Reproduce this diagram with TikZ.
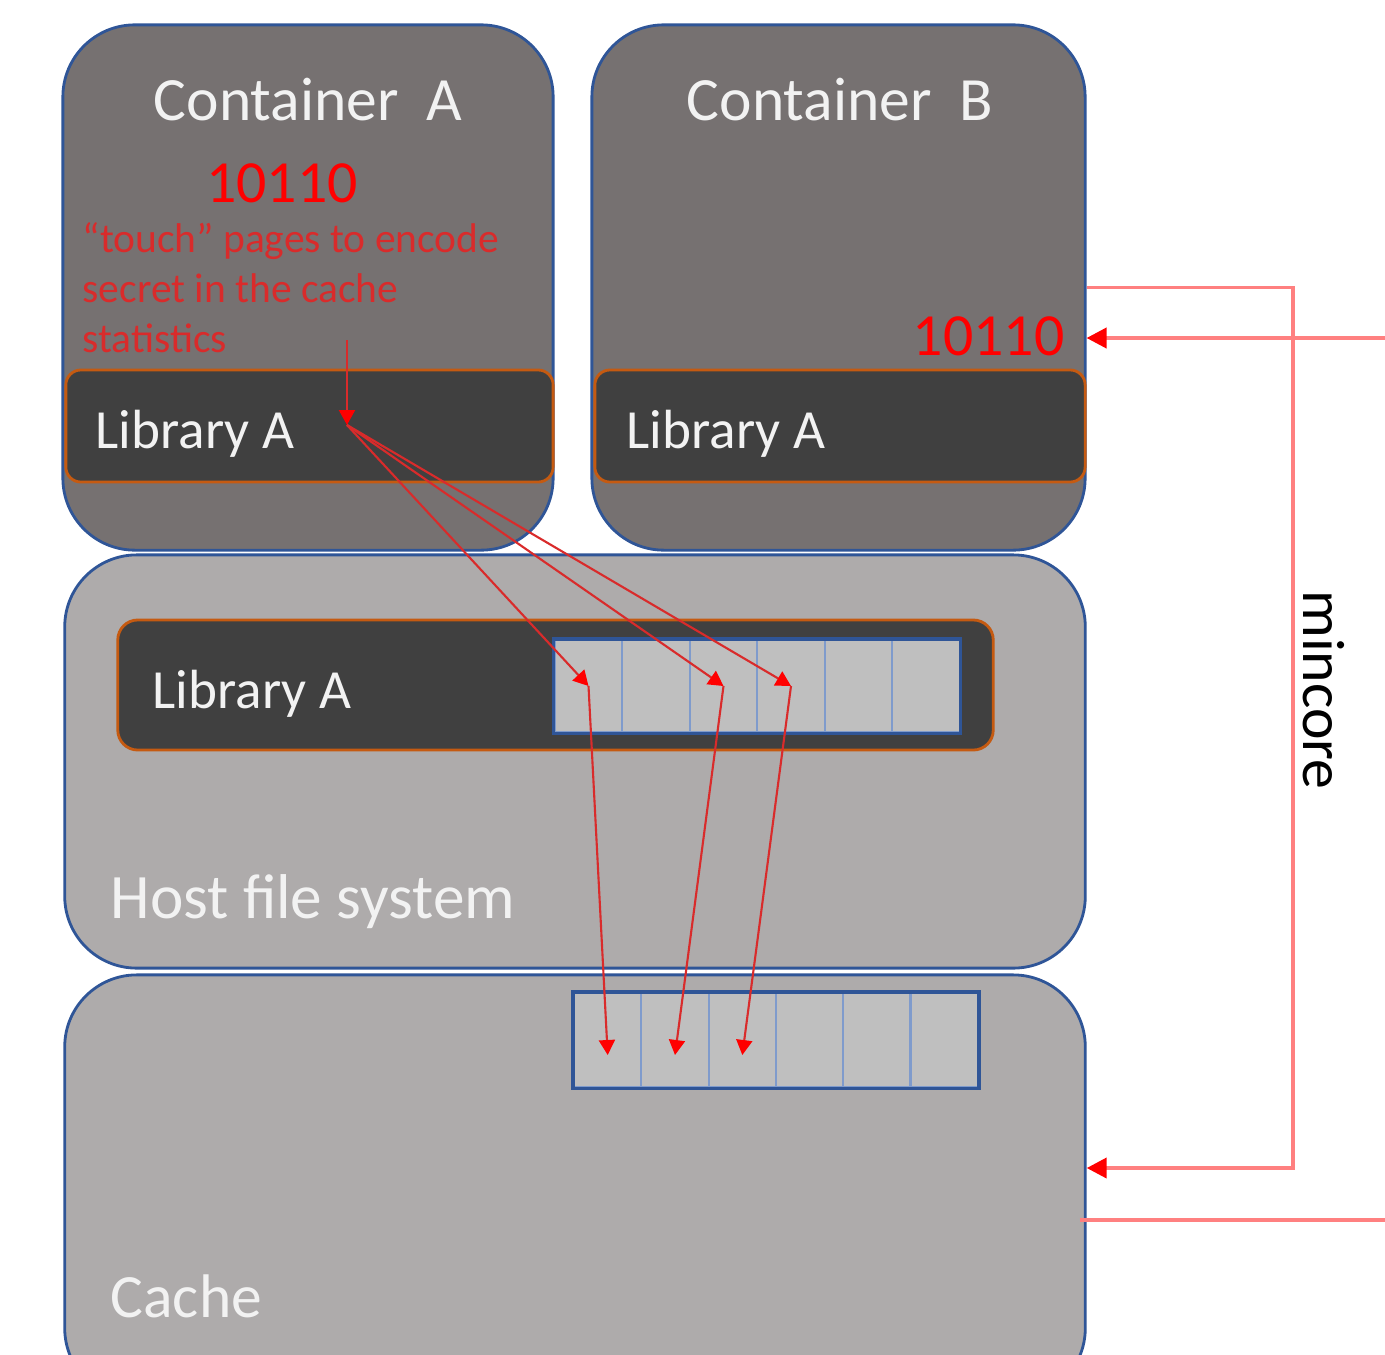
\documentclass[tikz,border=0pt]{standalone}
\usepackage{fontspec}
\setmainfont{Carlito}
\usetikzlibrary{arrows.meta}
\definecolor{contgray}{HTML}{767171}
\definecolor{hostgray}{HTML}{AEABAB}
\definecolor{libdark}{HTML}{404040}
\definecolor{boxblue}{HTML}{2F5597}
\definecolor{cellblue}{HTML}{7F9BCC}
\definecolor{liborange}{HTML}{C55A11}
\definecolor{cellgray}{HTML}{BFBFBF}
\definecolor{notered}{HTML}{D92B2B}
\definecolor{minccol}{HTML}{FF8080}
\definecolor{labelwhite}{HTML}{F2F2F2}
\tikzset{bigbox/.style={draw=boxblue, line width=0.8pt, rounded corners=0.72cm, inner sep=0pt},
         container/.style={bigbox, fill=contgray, minimum width=4.9cm, minimum height=5.25cm},
         hostlayer/.style={bigbox, fill=hostgray, minimum width=10.2cm},
         libbox/.style={draw=liborange, line width=0.8pt, fill=libdark, rounded corners=0.15cm, inner sep=0pt},
         cell/.style={draw=cellblue, line width=0.6pt, fill=cellgray, minimum width=0.675cm, minimum height=0.92cm, inner sep=0pt},
         stripframe/.style={draw=boxblue, line width=0.9pt},
         boxlabel/.style={text=labelwhite, inner sep=0pt, font=\fontsize{17.5}{20}\selectfont},
         liblabel/.style={boxlabel, font=\fontsize{15.7}{19}\selectfont},
         secret/.style={text=red, inner sep=0pt, font=\fontsize{17}{20}\selectfont},
         pagearrow/.style={draw=notered, line width=0.6pt, -{Triangle[length=0.15cm, width=0.16cm, color=red]}},
         minc/.style={draw=minccol, line width=1.1pt},
         mincarrow/.style={minc, -{Triangle[length=0.2cm, width=0.2cm, color=red]}}}
\begin{document}
\begin{tikzpicture}[x=0.01cm, y=-0.01cm]
    \clip (0,0) rectangle (1385,1354);

    \node[container] (contA) at (308,287.5) {};
    \node[container, minimum width=4.93cm] (contB) at (838.5,287.5) {};
    \node[hostlayer, minimum height=4.13cm] (host) at (575,761.5) {};
    \node[hostlayer, minimum height=4.25cm] (cache) at (575,1187.5) {};

    \node[libbox, minimum width=4.87cm, minimum height=1.12cm] (libA) at (309.5,426) {};
    \node[libbox, minimum width=4.9cm, minimum height=1.12cm] (libB) at (840,426) {};
    \node[libbox, rounded corners=0.2cm, minimum width=8.75cm, minimum height=1.3cm] (libH) at (555.5,685) {};

    \foreach \i in {0,...,5} {
        \node[cell] (h\i) at ({588.5+67.5*\i},686) {};
        \node[cell, minimum width=0.673cm, minimum height=0.94cm] (c\i) at ({607.7+67.3*\i},1040) {};
    }
    \draw[stripframe] (h0.north west) rectangle (h5.south east);
    \draw[stripframe] (c0.north west) rectangle (c5.south east);

    \node[boxlabel, anchor=base] (titleA) at (308,120) {Container\ \ A};
    \node[boxlabel, anchor=base] (titleB) at (840,120) {Container\ \ B};
    \node[secret, anchor=base] (bitsA) at (282,202) {10110};
    \node[secret, anchor=base east] (bitsB) at (1065,355) {10110};
    \node[text=notered, font=\fontsize{11.8}{14.2}\selectfont, align=left, anchor=north west, inner sep=0pt] (note) at (82,222) {“touch” pages to encode\\secret in the cache\\statistics};

    \node[liblabel, anchor=base west] (libAtxt) at (95,448) {Library A};
    \node[liblabel, anchor=base west] (libBtxt) at (626,448) {Library A};
    \node[liblabel, anchor=base west] (libHtxt) at (152,708) {Library A};
    \node[boxlabel, font=\fontsize{18}{21}\selectfont, anchor=base west] (hosttxt) at (110,918) {Host file system};
    \node[boxlabel, anchor=base west] (cachetxt) at (110,1317) {Cache};
    \node[anchor=base, rotate=-90, inner sep=0pt, font=\fontsize{17}{20}\selectfont] (minctxt) at (1303,690) {mincore};

    \coordinate (src) at (347,340);
    \coordinate (touch) at (347,425);
    \draw[pagearrow] (src) -- (touch);
    \foreach \i in {0,2,3}
        \draw[pagearrow] (touch) -- (h\i.center);
    \draw[pagearrow] (h0.center) -- ([yshift=-0.15cm]c0.center);
    \draw[pagearrow] (h2.center) -- ([yshift=-0.15cm]c1.center);
    \draw[pagearrow] (h3.center) -- ([yshift=-0.15cm]c2.center);

    \coordinate (mc) at (1293,1168);
    \coordinate (inR) at (1385,338);
    \coordinate (outR) at (1385,1220);
    \draw[mincarrow] (contB.east) -| (mc) -- (cache.east |- mc);
    \draw[mincarrow] (inR) -- (contB.east |- inR);
    \draw[minc] ([xshift=-0.07cm]cache.east |- outR) -- (outR);
\end{tikzpicture}
\end{document}
